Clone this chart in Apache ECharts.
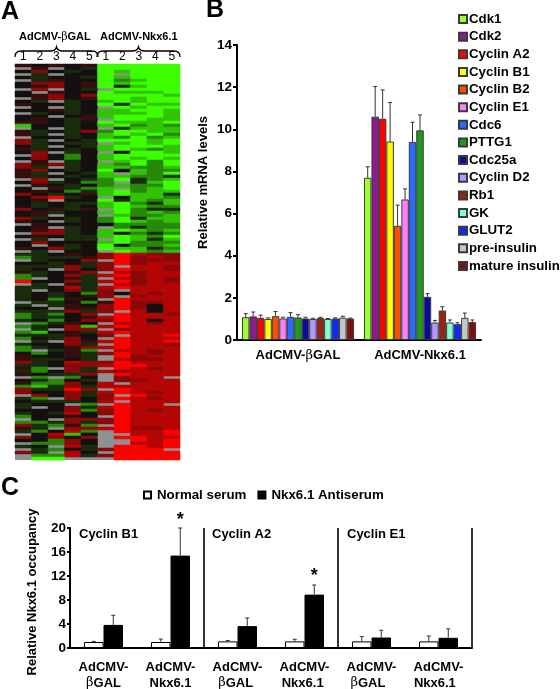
<!DOCTYPE html>
<html><head><meta charset="utf-8">
<script src="https://cdn.jsdelivr.net/npm/echarts@6/dist/echarts.min.js"></script>
<style>html,body{margin:0;padding:0;background:#fff}#c{width:560px;height:689px}</style>
</head><body><div id="c"></div>
<script>
// Panel A: expression rows. d..a = green (strong to weak), 0 = black, p..s = red (weak to strong), . = no data
const heatmapColumns = ['1','2','3','4','5','1','2','3','4','5'];
const heatRowsUp = [
"p0p0pddddd",".p.0addddd","0q0a0dcddd",".a.00d.ddd","0a00adcddd",".ap00dbcdd","0qq0pdcddd","0pq0pdacdd",
".q.0a.dddd","0.p00dcccd","0pq0qddddc",".pq0pddcdd","0a.a0cdcdd","p00a0dadcc",".0.a0.dcdd","00pa0ccddc",
".a0a0cccdc","00.0pcdddc","0p0ap.ddcc","pp0a0dcccd","c00a0cdbcb",".0.a0.accc",
"pa0aqbddcc","pa.a0cdcdb",".00a0cbdbc","qa.0adddcd","qa0aa.cdcd","0a.0acdddc","pa0a0cdcbc","0q.a0.0ddc",
".q0b0cdddd","0q0b0cdcdc",".p.a0.cdbd","qpqa0cbdbd","qa.a0ccbbc","pq0a0d0cbb","pa.0ac.cbd","pa0a0ccbba",
".q.0abdabc","0qa0bb.acd",".p0a0bcbbd","0.pabc.bcd","0p0bacdbcc","q0a0pcdcca",
"0qsa0.0ccb","0p.00dacbc","0a0aacdbac","0a0a0cdcbb","q0pap.dbaa","0pa00cdbcb","0p.00.cbbc","qa0a0bdacc",
"p0.a0bdcbc",".p0000bbbb","0p.a0.babb","0pqa0cdcbc",".qqa0c0bab","0p0aacdcbd",".a.aa.dcac","0q000cdbbb",
"0.0a0d0bbc","p0qa0dccab",".a.00.dcbc"];
const heatRowsDown = [
"aa0p0qsrqq","baaapqsqrq",".a00q.sqqq",
"00a0aqsqrr","aaaqaq.rrq","a0.q0qsrrq","pa0pq.rqrr","ba0qarsqrr","b.0pa.rqrq","s00qarsqrq",".a.pa.rqrr",
"aa0rarsrrr","a.0qaq.rrr","a0a0bq0rqr","a0a0pq.qrr","a0bp0.srrr",".aa0bpsqqr","a.ap0qsq0r","00.ppqsq0r",
"aaaqaq.r0r","bab0q.srrq","baa0prsrrr","a0b0qqsr0r",".bap0.rrqr","ba0qcrsrrr",
".a.qq.qrrr","bc0parsrrr","aaap0q.rrs","b0aq0.srrr",".a.qprsrrs","a00qa.srrq","ba0pqrsrrr","b.apb.rrqr",
"0b0paqsrqr","p00pa.sqrr","paa0a.rqqr","qa0rqqsrrr","aa0qqrssrr","pb.qa.srqr","ab0qarqrrr","p0aaq.srrr",
".b.b0.qrr.","0ab0a.qqrr","pbbq0r.rrr","bcaqarrrrr","qaasq.srrr","q00qarsrqr",
".q0qaq.srr","ab.q0qsrqr","0aaa0r.rrr","a00.b.srr.","a.0qarsrrr","000qbqsrqr","a0ar0qsrrr","b00p0.srrr",
".0.qqqsrrr","bbaqaqsrrr","qabpb.srrr","pa.qqrsqqr","ab0rb.srrs",".0rc0..rrs","q0q0q.ssrr","00bq0..srs",
".bbq0..rrs","a0.ra.ssrs",".ab0aqsss.","qa.r0.ssss",".bbraqssss",".dd...ssss"];
const levelValues = {a:-0.12,b:-0.5,c:-0.75,d:-1,'0':0,p:0.15,q:0.5,r:0.68,s:1};

// Panel B
const mrnaGroups = ['AdCMV-βGAL','AdCMV-Nkx6.1'];
const mrnaNames = ['Cdk1','Cdk2','Cyclin A2','Cyclin B1','Cyclin B2','Cyclin E1','Cdc6','PTTG1','Cdc25a','Cyclin D2','Rb1','GK','GLUT2','pre-insulin','mature insulin'];
const mrnaColors = ['#9cff2e','#8e1a8e','#ff0000','#ffff00','#ff4d00','#ff80ff','#2a6aff','#1f9a1f','#0a0aa0','#b399ff','#992211','#80ffd5','#0a2aff','#c0c8c8','#801010'];
const mrnaBetaGal = [1.08,1.12,1.05,1.0,1.13,1.02,1.1,1.07,1.02,1.0,1.04,1.0,1.02,1.06,1.02];
const mrnaBetaGalTop = [1.25,1.33,1.18,1.05,1.35,1.08,1.3,1.2,1.08,1.03,1.08,1.02,1.05,1.13,1.04];
const mrnaNkx = [7.7,10.6,10.5,9.42,5.42,6.67,9.4,9.95,2.05,0.83,1.4,0.83,0.75,1.05,0.85];
const mrnaNkxTop = [8.22,12.03,11.87,11.27,6.4,7.17,10.33,10.68,2.2,0.93,1.58,0.95,0.82,1.28,0.95];

// Panel C
const occupancyCats = ['AdCMV-\nβGAL','AdCMV-\nNkx6.1','AdCMV-\nβGAL ','AdCMV-\nNkx6.1 ','AdCMV-\nβGAL  ','AdCMV-\nNkx6.1  '];
const normalSerum = [1.0,1.0,1.1,1.1,1.1,1.1];
const normalSerumTop = [1.1,1.5,1.25,1.45,1.9,2.0];
const antiserum = [3.85,15.4,3.65,8.9,1.75,1.7];
const antiserumTop = [5.45,20,5.0,10.5,2.95,3.2];
const panelEnds = [1,3,5];
const stars = [[1,21.3],[3,12.0]];
const panelTitles = ['Cyclin B1','Cyclin A2','Cyclin E1'];

const FONT = '"Liberation Sans", Arial, sans-serif';
const heatData = [];
heatRowsUp.concat(heatRowsDown).forEach((row,y)=>{
  for(let x=0;x<10;x++){ const v=levelValues[row[x]]; if(v!==undefined) heatData.push([x,y,v]); }
});
const rowLabels = heatRowsUp.concat(heatRowsDown).map((_,i)=>String(i));
const betaRich = {b:{fontFamily:'"DejaVu Serif", serif',fontWeight:'normal',fontSize:13}};
const betaFmt = v=>String(v).replace('β','{b|β}');

function errorItem(step){
  return function(p,api){
    const off = api.value(3)*step;
    const x = api.coord([api.value(0),0])[0]+off;
    const y0 = api.coord([0,api.value(1)])[1];
    const y1 = api.coord([0,api.value(2)])[1];
    const st = {stroke:'#333',lineWidth:1};
    return {type:'group',children:[
      {type:'line',shape:{x1:x,y1:y0,x2:x,y2:y1},style:st},
      {type:'line',shape:{x1:x-2,y1:y1,x2:x+2,y2:y1},style:st}]};
  };
}
const mrnaSeries = mrnaNames.map((n,i)=>({
  type:'bar',name:n,xAxisIndex:1,yAxisIndex:1,barWidth:7.47,barGap:0,
  itemStyle:{color:mrnaColors[i],borderColor:'#3a3a3a',borderWidth:1},
  data:[mrnaBetaGal[i],mrnaNkx[i]]
}));
const mrnaErr = [];
mrnaNames.forEach((n,i)=>{
  mrnaErr.push([0,mrnaBetaGal[i],mrnaBetaGalTop[i],i-7]);
  mrnaErr.push([1,mrnaNkx[i],mrnaNkxTop[i],i-7]);
});
const occErr = [];
occupancyCats.forEach((c,i)=>{
  occErr.push([i,normalSerum[i],normalSerumTop[i],-0.5]);
  occErr.push([i,antiserum[i],antiserumTop[i],0.5]);
});

const txt=(x,y,text,size,extra)=>({type:'text',x,y,style:Object.assign({text,fill:'#000',font:`bold ${size}px ${FONT}`,verticalAlign:'middle'},extra||{})});

const chart = echarts.init(document.getElementById('c'),null,{renderer:'canvas'});
chart.setOption({
  animation:false,backgroundColor:'#fff',
  textStyle:{fontFamily:FONT},
  grid:[
    {left:15,top:64,width:165,height:396,show:true,backgroundColor:'#8d9191',borderWidth:0,containLabel:false,outerBoundsMode:'none'},
    {left:237,top:45,width:244,height:295,outerBoundsMode:'none'},
    {left:70,top:528,width:402,height:120,outerBoundsMode:'none'}
  ],
  xAxis:[
    {gridIndex:0,type:'category',position:'top',data:heatmapColumns,axisLine:{show:false},axisTick:{show:false},
     axisLabel:{interval:0,margin:1,fontSize:12,color:'#000',fontFamily:FONT}},
    {gridIndex:1,type:'category',data:mrnaGroups,axisLine:{lineStyle:{color:'#000',width:2}},axisTick:{show:false},
     axisLabel:{interval:0,margin:9,fontSize:13,fontWeight:'bold',color:'#000',fontFamily:FONT,formatter:betaFmt,rich:betaRich}},
    {gridIndex:2,type:'category',data:occupancyCats,axisLine:{lineStyle:{color:'#000',width:2}},axisTick:{show:false},
     axisLabel:{interval:0,margin:11,fontSize:13,lineHeight:16,fontWeight:'bold',color:'#000',fontFamily:FONT,formatter:betaFmt,rich:betaRich}}
  ],
  yAxis:[
    {gridIndex:0,type:'category',inverse:true,data:rowLabels,show:false},
    {gridIndex:1,type:'value',min:0,max:14,interval:2,splitLine:{show:false},
     axisLine:{show:true,lineStyle:{color:'#000',width:2}},axisTick:{show:true,length:4,lineStyle:{color:'#000',width:2}},
     axisLabel:{margin:5,fontSize:13.5,fontWeight:'bold',color:'#000',fontFamily:FONT},
     name:'Relative mRNA levels',nameLocation:'middle',nameGap:27,
     nameTextStyle:{fontSize:13,fontWeight:'bold',color:'#000',fontFamily:FONT,padding:[0,0,0,20]}},
    {gridIndex:2,type:'value',min:0,max:20,interval:4,splitLine:{show:false},
     axisLine:{show:true,lineStyle:{color:'#000',width:2}},axisTick:{show:true,length:3,lineStyle:{color:'#000',width:2}},
     axisLabel:{margin:4,fontSize:13.5,fontWeight:'bold',color:'#000',fontFamily:FONT},
     name:'Relative Nkx6.1 occupancy',nameLocation:'middle',nameGap:31,
     nameTextStyle:{fontSize:13,fontWeight:'bold',color:'#000',fontFamily:FONT,padding:[0,8,0,0]}}
  ],
  visualMap:{show:false,type:'continuous',seriesIndex:0,min:-1,max:1,dimension:2,inRange:{color:['#3cff00','#141010','#ff0000']}},
  legend:[
    {orient:'vertical',left:453,top:7,itemWidth:8,itemHeight:8,itemGap:3.64,icon:'rect',data:mrnaNames,
     textStyle:{fontSize:13.3,lineHeight:14,fontWeight:'bold',color:'#000',fontFamily:FONT,padding:[0,0,0,-3]}},
    {orient:'horizontal',left:138,top:483,itemWidth:7,itemHeight:7,itemGap:11,icon:'rect',data:['Normal serum','Nkx6.1 Antiserum'],
     textStyle:{fontSize:13.3,lineHeight:14,fontWeight:'bold',color:'#000',fontFamily:FONT,padding:[0,0,0,1]}}
  ],
  graphic:{elements:[
    txt(1,12,'A',25),txt(206,10,'B',25),txt(1,488,'C',25),
    {type:'text',x:19,y:37,style:{text:'AdCMV-{b|β}GAL',fill:'#000',font:`bold 11px ${FONT}`,verticalAlign:'middle',rich:{b:{fontFamily:'"DejaVu Serif", serif',fontSize:11,fontWeight:'normal'}}}},
    txt(100,37,'AdCMV-Nkx6.1',11),
    txt(79,534,panelTitles[0],13),txt(212,534,panelTitles[1],13),txt(347,534,panelTitles[2],13)
  ]},
  series:[
    {type:'heatmap',xAxisIndex:0,yAxisIndex:0,data:heatData,progressive:0,itemStyle:{borderWidth:0}},
    ...mrnaSeries,
    {type:'custom',name:'mrnaErrors',xAxisIndex:1,yAxisIndex:1,data:mrnaErr,renderItem:errorItem(7.47),z:5},
    {type:'bar',name:'Normal serum',xAxisIndex:2,yAxisIndex:2,barWidth:19.5,barGap:0,data:normalSerum,
     itemStyle:{color:'#fff',borderColor:'#000',borderWidth:1}},
    {type:'bar',name:'Nkx6.1 Antiserum',xAxisIndex:2,yAxisIndex:2,barWidth:19.5,barGap:0,data:antiserum,
     itemStyle:{color:'#000',borderColor:'#000',borderWidth:1}},
    {type:'custom',name:'occErrors',xAxisIndex:2,yAxisIndex:2,data:occErr,renderItem:errorItem(19.5),z:5},
    {type:'custom',name:'dividers',xAxisIndex:2,yAxisIndex:2,data:panelEnds.map(c=>[c,20]),z:5,
     renderItem:(p,api)=>{
       const half = api.size([1,0])[0]/2;
       const x = api.coord([api.value(0),0])[0]+half;
       return {type:'line',shape:{x1:x,y1:api.coord([0,0])[1],x2:x,y2:api.coord([0,api.value(1)])[1]},style:{stroke:'#000',lineWidth:1.6}};
     }},
    {type:'custom',name:'stars',xAxisIndex:2,yAxisIndex:2,data:stars,z:5,clip:false,
     renderItem:(p,api)=>{
       const c = api.coord([api.value(0),api.value(1)]);
       return {type:'text',x:c[0]+9.75,y:c[1],style:{text:'*',fill:'#000',font:`bold 18px ${FONT}`,align:'center',verticalAlign:'middle'}};
     }},
    {type:'custom',name:'headerBraces',coordinateSystem:'none',data:[15,97],silent:true,
     renderItem:(p,api)=>({type:'path',shape:{pathData:'M0 10 Q0 4 6 4 L35 4 Q40 4 41 0 Q42 4 47 4 L76 4 Q82 4 82 10',layout:'cover',x:api.value(0),y:47,width:83,height:10},style:{fill:'none',stroke:'#000',lineWidth:1.3}})}
  ]
});
</script></body></html>
